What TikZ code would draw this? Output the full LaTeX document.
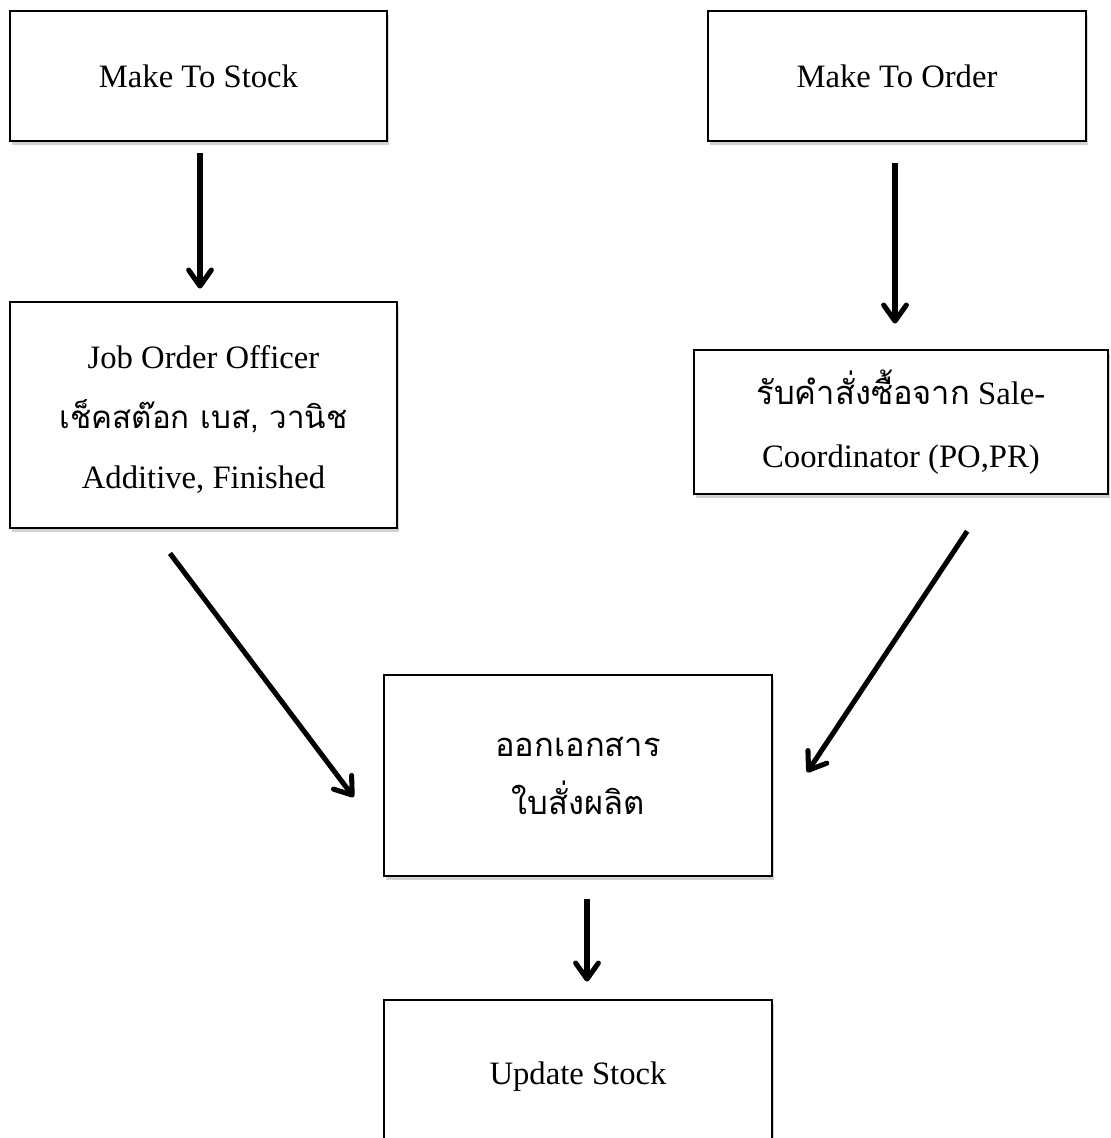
\documentclass[tikz,border=0pt]{standalone}
\usepackage{fontspec}
\setmainfont{Liberation Serif}
\newfontfamily\thai[Script=Thai]{Loma}
\usetikzlibrary{arrows.meta,shadows}
\def\px{0.75pt}
\tikzset{
  box/.style={draw, line width=2.1pt, fill=white, inner sep=0pt, align=center,
    font=\fontsize{24.5}{45}\selectfont,
    drop shadow={shadow xshift=1.5pt, shadow yshift=-3pt, opacity=0.25, fill=black!70}},
  arr/.style={line width=3.8pt,
    -{Straight Barb[length=12pt, width=17pt, line cap=round, line join=round]}},
}
\begin{document}
\begin{tikzpicture}[x=\px, y=-\px]
\useasboundingbox (0,0) rectangle (1110,1138);

% process boxes
\node[box, minimum width=377*\px, minimum height=130*\px] (mts) at (198.5,76) {Make To Stock};
\node[box, minimum width=378*\px, minimum height=130*\px] (mto) at (897,76) {Make To Order};
\node[box, minimum width=387*\px, minimum height=226*\px] (job) at (203.5,415)
  {\raisebox{-0.75pt}[\height][\depth]{\begin{tabular}{@{}c@{}}Job Order Officer\\{\thai\fontsize{23.5}{45}\selectfont เช็คสต๊อก เบส, วานิช}\\Additive, Finished\end{tabular}}};
\node[box, minimum width=414*\px, minimum height=144*\px, font=\fontsize{24.5}{47}\selectfont] (rcv) at (901,422)
  {{\thai รับคำสั่งซื้อจาก} Sale-\\Coordinator (PO,PR)};
\node[box, minimum width=388*\px, minimum height=201*\px, font=\fontsize{24.5}{43.5}\selectfont] (doc) at (578,775.5)
  {\thai ออกเอกสาร\\\thai ใบสั่งผลิต};
\node[box, minimum width=388*\px, minimum height=160*\px] (upd) at (578,1080)
  {\raisebox{2.25pt}[\height][\depth]{Update Stock}};

% connectors
\draw[arr, shorten <=11*\px, shorten >=12*\px]
  ([xshift=1.5*\px]mts.south) -- ([xshift=-3.5*\px]job.north);
\draw[arr, shorten <=21*\px, shorten >=25*\px]
  ([xshift=-2*\px]mto.south) -- ([xshift=-6*\px]rcv.north);
\draw[arr, shorten <=30*\px, shorten >=48*\px]
  ([xshift=-51.6*\px]job.south) -- ([yshift=-59.9*\px]doc.west);
\draw[arr, shorten <=43*\px, shorten >=61*\px]
  ([xshift=89.95*\px]rcv.south) -- ([yshift=-47.6*\px]doc.east);
\draw[arr, shorten <=22*\px, shorten >=17*\px]
  ([xshift=9*\px]doc.south) -- ([xshift=9*\px]upd.north);
\end{tikzpicture}
\end{document}
